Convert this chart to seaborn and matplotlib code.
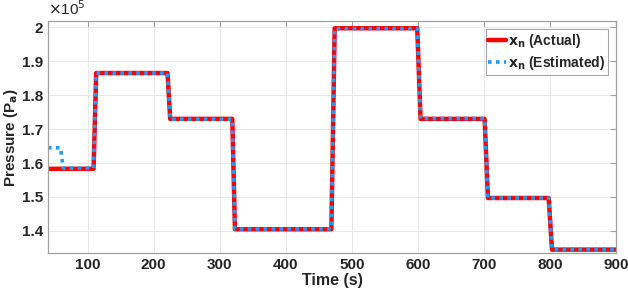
import matplotlib
matplotlib.use("Agg")
import matplotlib.pyplot as plt
import pandas as pd
import seaborn as sns

# corner points, pressure in units of 1e5 Pa
actual_time = [40, 109, 113, 221, 225, 319, 323, 469, 474, 599, 604, 701, 706, 798, 803, 900]
actual_pressure = [1.583, 1.583, 1.865, 1.865, 1.730, 1.730, 1.405, 1.405,
                   1.997, 1.997, 1.730, 1.730, 1.497, 1.497, 1.345, 1.345]

est_time = [40, 59, 63, 109, 113, 221, 225, 319, 323, 469, 474, 599, 604, 701, 706, 798, 803, 900]
est_pressure = [1.645, 1.645, 1.585, 1.585, 1.865, 1.865, 1.729, 1.729, 1.406, 1.406,
                1.996, 1.996, 1.731, 1.731, 1.497, 1.497, 1.346, 1.346]

actual = pd.DataFrame({"Time": actual_time, "Pressure": actual_pressure})
est = pd.DataFrame({"Time": est_time, "Pressure": est_pressure})

sns.set_style("white")
plt.rcParams["font.family"] = ["Liberation Sans", "DejaVu Sans"]

fig = plt.figure(figsize=(6.28, 2.93), dpi=100)
ax = fig.add_axes([0.0764, 0.1365, 0.9046, 0.7915])

sns.lineplot(data=actual, x="Time", y="Pressure", ax=ax, color="#ff0000",
             linewidth=3.2, label=r"$\mathbf{x_n}$ (Actual)", estimator=None)
sns.lineplot(data=est, x="Time", y="Pressure", ax=ax, color="#1e9bff",
             linewidth=2.6, linestyle=(0, (1, 1.2)),
             label=r"$\mathbf{x_n}$ (Estimated)", estimator=None)

ax.set_xlim(40, 900)
ax.set_ylim(1.335, 2.018)
ax.set_xticks(range(100, 901, 100))
ax.set_yticks([1.4, 1.5, 1.6, 1.7, 1.8, 1.9, 2.0])
ax.set_yticklabels(["1.4", "1.5", "1.6", "1.7", "1.8", "1.9", "2"])
ax.grid(True, color="#e8e8e8", linewidth=0.7)
for s in ax.spines.values():
    s.set_color("#a0a0a0")
    s.set_linewidth(0.9)
ax.tick_params(direction="in", length=4, color="#a0a0a0", labelsize=11,
               top=True, right=True, labeltop=False, labelright=False)
for lbl in ax.get_xticklabels() + ax.get_yticklabels():
    lbl.set_fontweight("bold")

ax.set_xlabel("Time (s)", fontsize=11.5, fontweight="bold", labelpad=1)
ax.set_ylabel(r"Pressure (P$_\mathbf{a}$)", fontsize=11, fontweight="bold")
ax.yaxis.set_label_coords(-0.05, 0.5)
ax.text(0.0, 1.012, r"$\times$10$^5$", transform=ax.transAxes, fontsize=11,
        ha="left", va="bottom")

leg = ax.legend(loc="upper right", bbox_to_anchor=(0.99, 0.978), fontsize=10,
                frameon=True, fancybox=False, handlelength=1.3, handletextpad=0.1,
                borderpad=0.2, labelspacing=0.3, borderaxespad=0.2)
leg.get_frame().set_edgecolor("#909090")
leg.get_frame().set_linewidth(0.8)
for t in leg.get_texts():
    t.set_fontweight("bold")

fig.savefig("out.png", dpi=100)
